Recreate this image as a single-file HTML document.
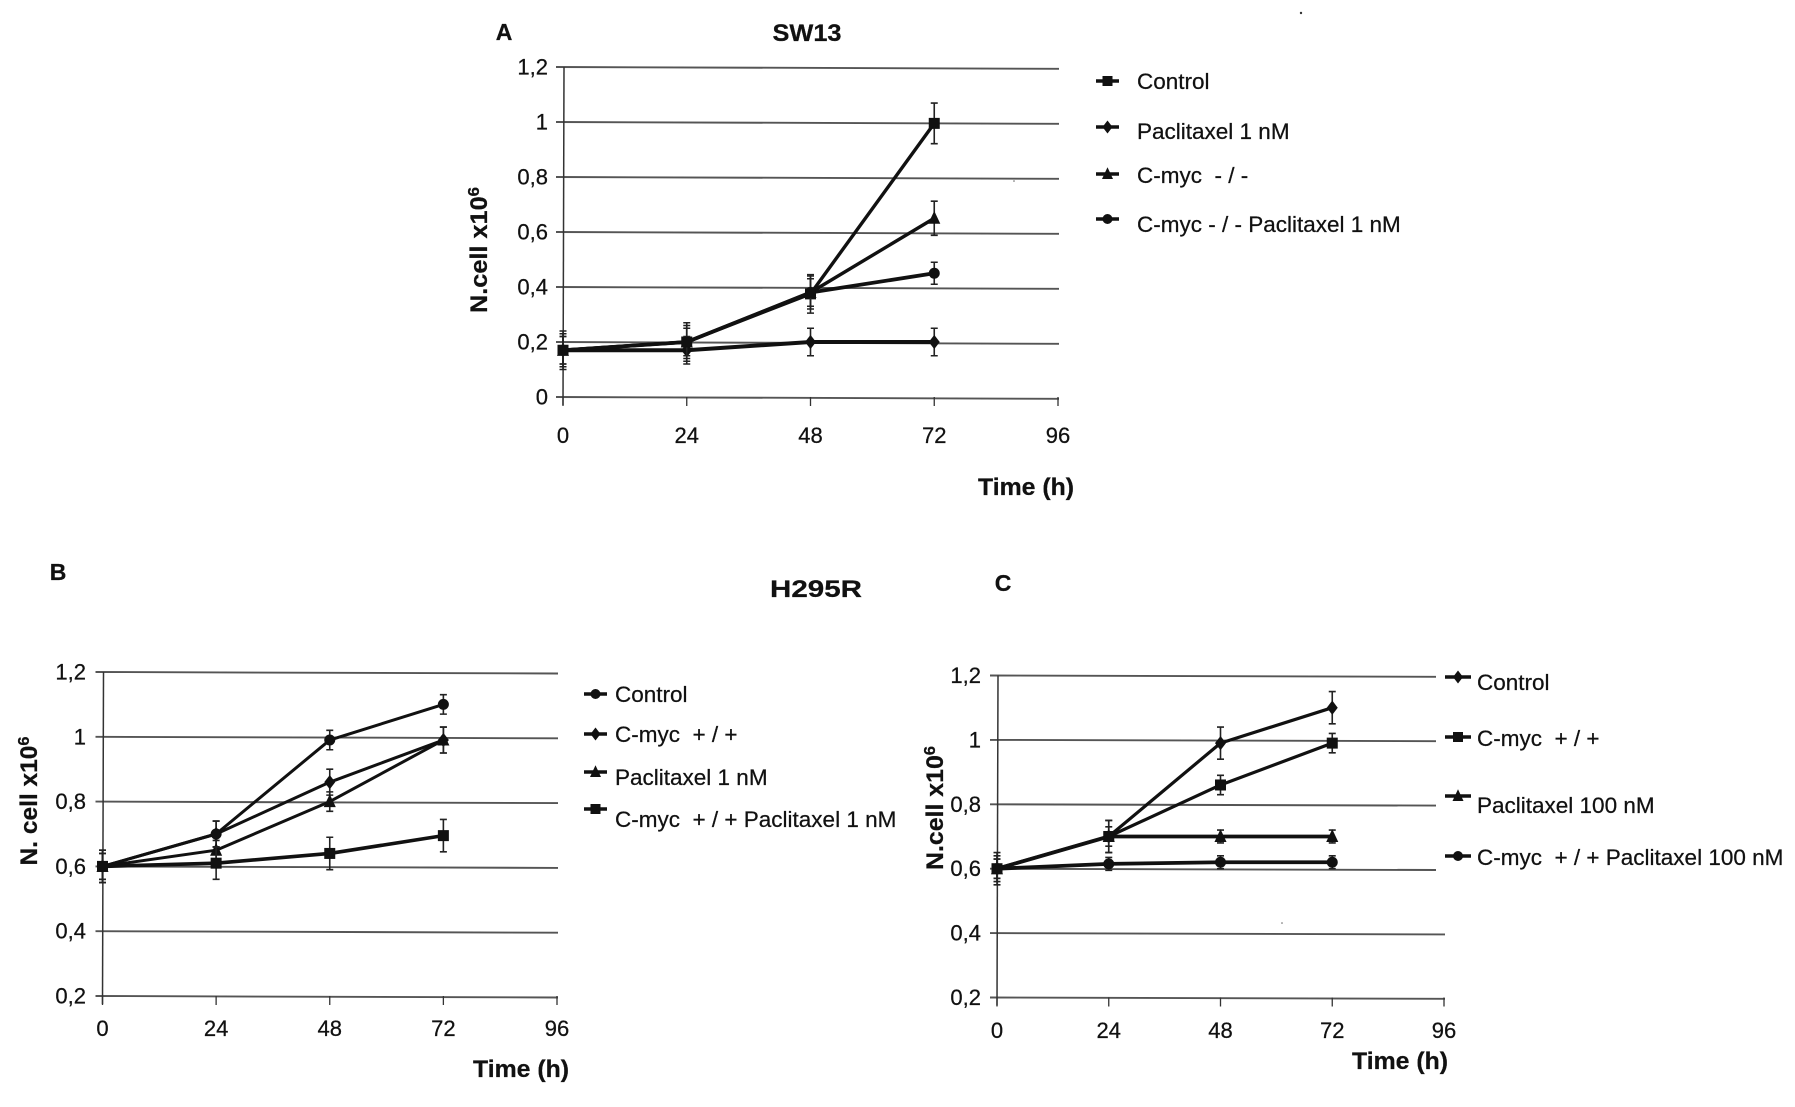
<!DOCTYPE html>
<html lang="en">
<head>
<meta charset="utf-8">
<title>Cell growth curves: SW13 and H295R</title>
<style>
html,body{margin:0;padding:0;background:#fff;}
svg{display:block;}
text{font-family:"Liberation Sans",sans-serif;fill:#111;stroke:#111;stroke-width:0.25;}
</style>
</head>
<body>
<svg id="figure" xmlns="http://www.w3.org/2000/svg" width="1795" height="1107" viewBox="0 0 1795 1107">
<rect width="1795" height="1107" fill="#fff"/>
<text x="504" y="40" font-size="23" font-weight="700" text-anchor="middle">A</text>
<text x="807" y="41" font-size="24" font-weight="700" text-anchor="middle" textLength="69" lengthAdjust="spacingAndGlyphs">SW13</text>
<text x="58" y="580" font-size="23" font-weight="700" text-anchor="middle">B</text>
<text x="816" y="597" font-size="24" font-weight="700" text-anchor="middle" textLength="92" lengthAdjust="spacingAndGlyphs">H295R</text>
<text x="1003" y="591" font-size="23" font-weight="700" text-anchor="middle">C</text>
<circle cx="1301" cy="13" r="1.2" fill="#333"/>
<circle cx="1014" cy="181" r="0.8" fill="#666"/>
<circle cx="1282" cy="923" r="0.8" fill="#666"/>
<g id="chart-a"></g>
<g id="chart-b"></g>
<g id="chart-c"></g>
</svg>
<script>
// Shared x axis
const timeTicks = [0, 24, 48, 72, 96];
const timePoints = [0, 24, 48, 72];

// Panel A (SW13)
const aYTicks = [0, 0.2, 0.4, 0.6, 0.8, 1, 1.2];
const aYLabels = ['0', '0,2', '0,4', '0,6', '0,8', '1', '1,2'];
const aNames = ['Control', 'Paclitaxel 1 nM', 'C-myc  - / -', 'C-myc - / - Paclitaxel 1 nM'];
const aShapes = ['square', 'diamond', 'triangle', 'circle'];
const aControl = [0.17, 0.2, 0.375, 0.995];
const aControlErr = [0.07, 0.07, 0.07, 0.074];
const aPaclitaxel = [0.17, 0.17, 0.2, 0.2];
const aPaclitaxelErr = [0.05, 0.05, 0.05, 0.05];
const aMyc = [0.17, 0.2, 0.38, 0.65];
const aMycErr = [0.06, 0.06, 0.06, 0.062];
const aMycPac = [0.17, 0.2, 0.38, 0.45];
const aMycPacErr = [0.05, 0.05, 0.05, 0.04];

// Panel B (H295R, 1 nM)
const bYTicks = [0.2, 0.4, 0.6, 0.8, 1, 1.2];
const bYLabels = ['0,2', '0,4', '0,6', '0,8', '1', '1,2'];
const bNames = ['Control', 'C-myc  + / +', 'Paclitaxel 1 nM', 'C-myc  + / + Paclitaxel 1 nM'];
const bShapes = ['circle', 'diamond', 'triangle', 'square'];
const bControl = [0.6, 0.7, 0.99, 1.1];
const bControlErr = [0.05, 0.04, 0.03, 0.03];
const bMyc = [0.6, 0.7, 0.86, 0.99];
const bMycErr = [0.05, 0.04, 0.04, 0.04];
const bPaclitaxel = [0.6, 0.65, 0.8, 0.99];
const bPaclitaxelErr = [0.04, 0.03, 0.03, 0.04];
const bMycPac = [0.6, 0.61, 0.64, 0.695];
const bMycPacErr = [0.04, 0.05, 0.05, 0.05];

// Panel C (H295R, 100 nM)
const cNames = ['Control', 'C-myc  + / +', 'Paclitaxel 100 nM', 'C-myc  + / + Paclitaxel 100 nM'];
const cShapes = ['diamond', 'square', 'triangle', 'circle'];
const cControl = [0.6, 0.7, 0.99, 1.1];
const cControlErr = [0.05, 0.05, 0.05, 0.05];
const cMyc = [0.6, 0.7, 0.86, 0.99];
const cMycErr = [0.04, 0.03, 0.03, 0.03];
const cPaclitaxel = [0.6, 0.7, 0.7, 0.7];
const cPaclitaxelErr = [0.03, 0.05, 0.02, 0.02];
const cMycPac = [0.6, 0.615, 0.62, 0.62];
const cMycPacErr = [0.03, 0.02, 0.02, 0.02];

const NS = 'http://www.w3.org/2000/svg';

function svgEl(parent, tag, attrs) {
  const el = document.createElementNS(NS, tag);
  for (const k in attrs) el.setAttribute(k, attrs[k]);
  parent.appendChild(el);
  return el;
}

function drawMarker(parent, shape, cx, cy, r) {
  if (shape === 'square') {
    return svgEl(parent, 'rect', {x: cx - r, y: cy - r, width: 2 * r, height: 2 * r, fill: '#111'});
  }
  if (shape === 'circle') {
    return svgEl(parent, 'circle', {cx: cx, cy: cy, r: r, fill: '#111'});
  }
  if (shape === 'triangle') {
    const pts = [[cx, cy - r * 1.35], [cx + r * 1.1, cy + r], [cx - r * 1.1, cy + r]];
    return svgEl(parent, 'polygon', {points: pts.join(' '), fill: '#111'});
  }
  const pts = [[cx, cy - r * 1.3], [cx + r, cy], [cx, cy + r * 1.3], [cx - r, cy]];
  return svgEl(parent, 'polygon', {points: pts.join(' '), fill: '#111'});
}

function drawPanel(id, cfg) {
  const root = document.getElementById(id);
  const xs = function (v) { return cfg.x0 + (v / 96) * (cfg.x96 - cfg.x0); };
  const ys = function (v) {
    return cfg.yBottom + ((v - cfg.yMin) / (1.2 - cfg.yMin)) * (cfg.yTop - cfg.yBottom);
  };

  // Gridlines (slightly tilted as in the scan)
  cfg.yTicks.forEach(function (t, i) {
    const short = cfg.shortGridAbove !== undefined && t >= cfg.shortGridAbove;
    const line = svgEl(root, 'line', {
      x1: cfg.x0 - 7, y1: ys(t),
      x2: short ? cfg.shortEnd : cfg.x96 + 1, y2: ys(t) + cfg.tilt,
      stroke: '#555', 'stroke-width': 1.9
    });
    
    
    const label = svgEl(root, 'text', {
      x: cfg.yLabelX, y: ys(t) + 7.5, 'font-size': 22, 'text-anchor': 'end'
    });
    
    
    label.textContent = cfg.yLabels[i];
  });

  // Axes
  const yAxis = svgEl(root, 'line', {
    x1: cfg.x0 + 1, y1: ys(1.2), x2: cfg.x0, y2: ys(cfg.yMin) + 8, stroke: '#333', 'stroke-width': 1.5
  });
  
  

  timeTicks.forEach(function (t) {
    const tick = svgEl(root, 'line', {
      x1: xs(t), y1: ys(cfg.yMin), x2: xs(t), y2: ys(cfg.yMin) + 9, stroke: '#333', 'stroke-width': 1.3
    });
    
    
    const label = svgEl(root, 'text', {
      x: xs(t), y: cfg.xLabelY, 'font-size': 22, 'text-anchor': 'middle'
    });
    
    
    label.textContent = String(t);
  });

  // Axis titles
  const xTitle = svgEl(root, 'text', {
    x: cfg.xTitle[0], y: cfg.xTitle[1], 'font-size': 24, 'font-weight': 700,
    'text-anchor': 'middle', textLength: 96, lengthAdjust: 'spacingAndGlyphs'
  });
  
  
  xTitle.textContent = 'Time (h)';

  const yTitle = svgEl(root, 'text', {
    transform: 'translate(' + cfg.yTitle[0] + ',' + cfg.yTitle[1] + ') rotate(-90)',
    'font-size': 24, 'font-weight': 700, 'text-anchor': 'middle',
    textLength: cfg.yTitleLength, lengthAdjust: 'spacingAndGlyphs'
  });
  
  
  yTitle.appendChild(document.createTextNode(cfg.yTitleText + ' x10'));
  const sup = svgEl(yTitle, 'tspan', {dy: -8, 'font-size': 16});
  sup.textContent = '6';

  // Series
  cfg.series.forEach(function (s, si) {
    const g = svgEl(root, 'g', {});
    
    

    s.values.forEach(function (v, i) {
      const x = xs(timePoints[i]);
      const top = ys(v + s.errs[i]);
      const bottom = ys(v - s.errs[i]);
      const bar = svgEl(g, 'path', {
        d: 'M' + (x - 3.5) + ' ' + top + 'H' + (x + 3.5) + 'M' + x + ' ' + top + 'V' + bottom +
           'M' + (x - 3.5) + ' ' + bottom + 'H' + (x + 3.5),
        stroke: '#222', 'stroke-width': 1.6, fill: 'none'
      });
      
      
    });

    const line = svgEl(g, 'polyline', {
      points: s.values.map(function (v, i) { return xs(timePoints[i]) + ',' + ys(v); }).join(' '),
      fill: 'none', stroke: '#111', 'stroke-width': cfg.lineWidths[si], 'stroke-linejoin': 'round'
    });
    
    

    s.values.forEach(function (v, i) {
      const m = drawMarker(g, cfg.shapes[si], xs(timePoints[i]), ys(v), 5.5);
      
      
    });
  });

  // Legend
  cfg.names.forEach(function (name, i) {
    const g = svgEl(root, 'g', {});
    
    
    const key = svgEl(g, 'line', {
      x1: cfg.legendKey[0], y1: cfg.legendMarkerY[i], x2: cfg.legendKey[1], y2: cfg.legendMarkerY[i],
      stroke: '#111', 'stroke-width': 3.6
    });
    
    
    const mark = drawMarker(g, cfg.shapes[i], (cfg.legendKey[0] + cfg.legendKey[1]) / 2, cfg.legendMarkerY[i], 5);
    
    
    const label = svgEl(g, 'text', {
      x: cfg.legendTextX, y: cfg.legendTextY[i] + 8, 'font-size': 22.5,
      style: 'white-space:pre'
    });
    
    
    label.textContent = name;
  });
}

drawPanel('chart-a', {
  x0: 563, x96: 1058, yTop: 67, yBottom: 397, yMin: 0, tilt: 1.8,
  yTicks: aYTicks, yLabels: aYLabels, yLabelX: 548, xLabelY: 443,
  xTitle: [1026, 495], yTitle: [487, 250], yTitleText: 'N.cell', yTitleLength: 126,
  names: aNames, shapes: aShapes, lineWidths: [3.4, 4, 3.4, 3.8],
  series: [
    {values: aControl, errs: aControlErr},
    {values: aPaclitaxel, errs: aPaclitaxelErr},
    {values: aMyc, errs: aMycErr},
    {values: aMycPac, errs: aMycPacErr}
  ],
  legendKey: [1096, 1119], legendMarkerY: [81, 127, 174, 219], legendTextX: 1137, legendTextY: [81, 131, 175, 224]
});

drawPanel('chart-b', {
  x0: 102.5, x96: 557, yTop: 672, yBottom: 996, yMin: 0.2, tilt: 1.5,
  yTicks: bYTicks, yLabels: bYLabels, yLabelX: 86, xLabelY: 1036,
  xTitle: [521, 1077], yTitle: [37, 801], yTitleText: 'N. cell', yTitleLength: 129,
  names: bNames, shapes: bShapes, lineWidths: [3, 3, 3, 3.6],
  series: [
    {values: bControl, errs: bControlErr},
    {values: bMyc, errs: bMycErr},
    {values: bPaclitaxel, errs: bPaclitaxelErr},
    {values: bMycPac, errs: bMycPacErr}
  ],
  legendKey: [584, 607], legendMarkerY: [694, 734, 772, 809], legendTextX: 615, legendTextY: [694, 734, 777, 819]
});

drawPanel('chart-c', {
  x0: 997, x96: 1444, yTop: 675.5, yBottom: 997.5, yMin: 0.2, tilt: 1.3,
  shortGridAbove: 0.55, shortEnd: 1436,
  yTicks: bYTicks, yLabels: bYLabels, yLabelX: 981, xLabelY: 1038,
  xTitle: [1400, 1069], yTitle: [943, 808], yTitleText: 'N.cell', yTitleLength: 124,
  names: cNames, shapes: cShapes, lineWidths: [3.2, 3.2, 3.8, 3.8],
  series: [
    {values: cControl, errs: cControlErr},
    {values: cMyc, errs: cMycErr},
    {values: cPaclitaxel, errs: cPaclitaxelErr},
    {values: cMycPac, errs: cMycPacErr}
  ],
  legendKey: [1445, 1471], legendMarkerY: [677, 737, 796, 856], legendTextX: 1477, legendTextY: [682, 738, 805, 857]
});
</script>
</body>
</html>
